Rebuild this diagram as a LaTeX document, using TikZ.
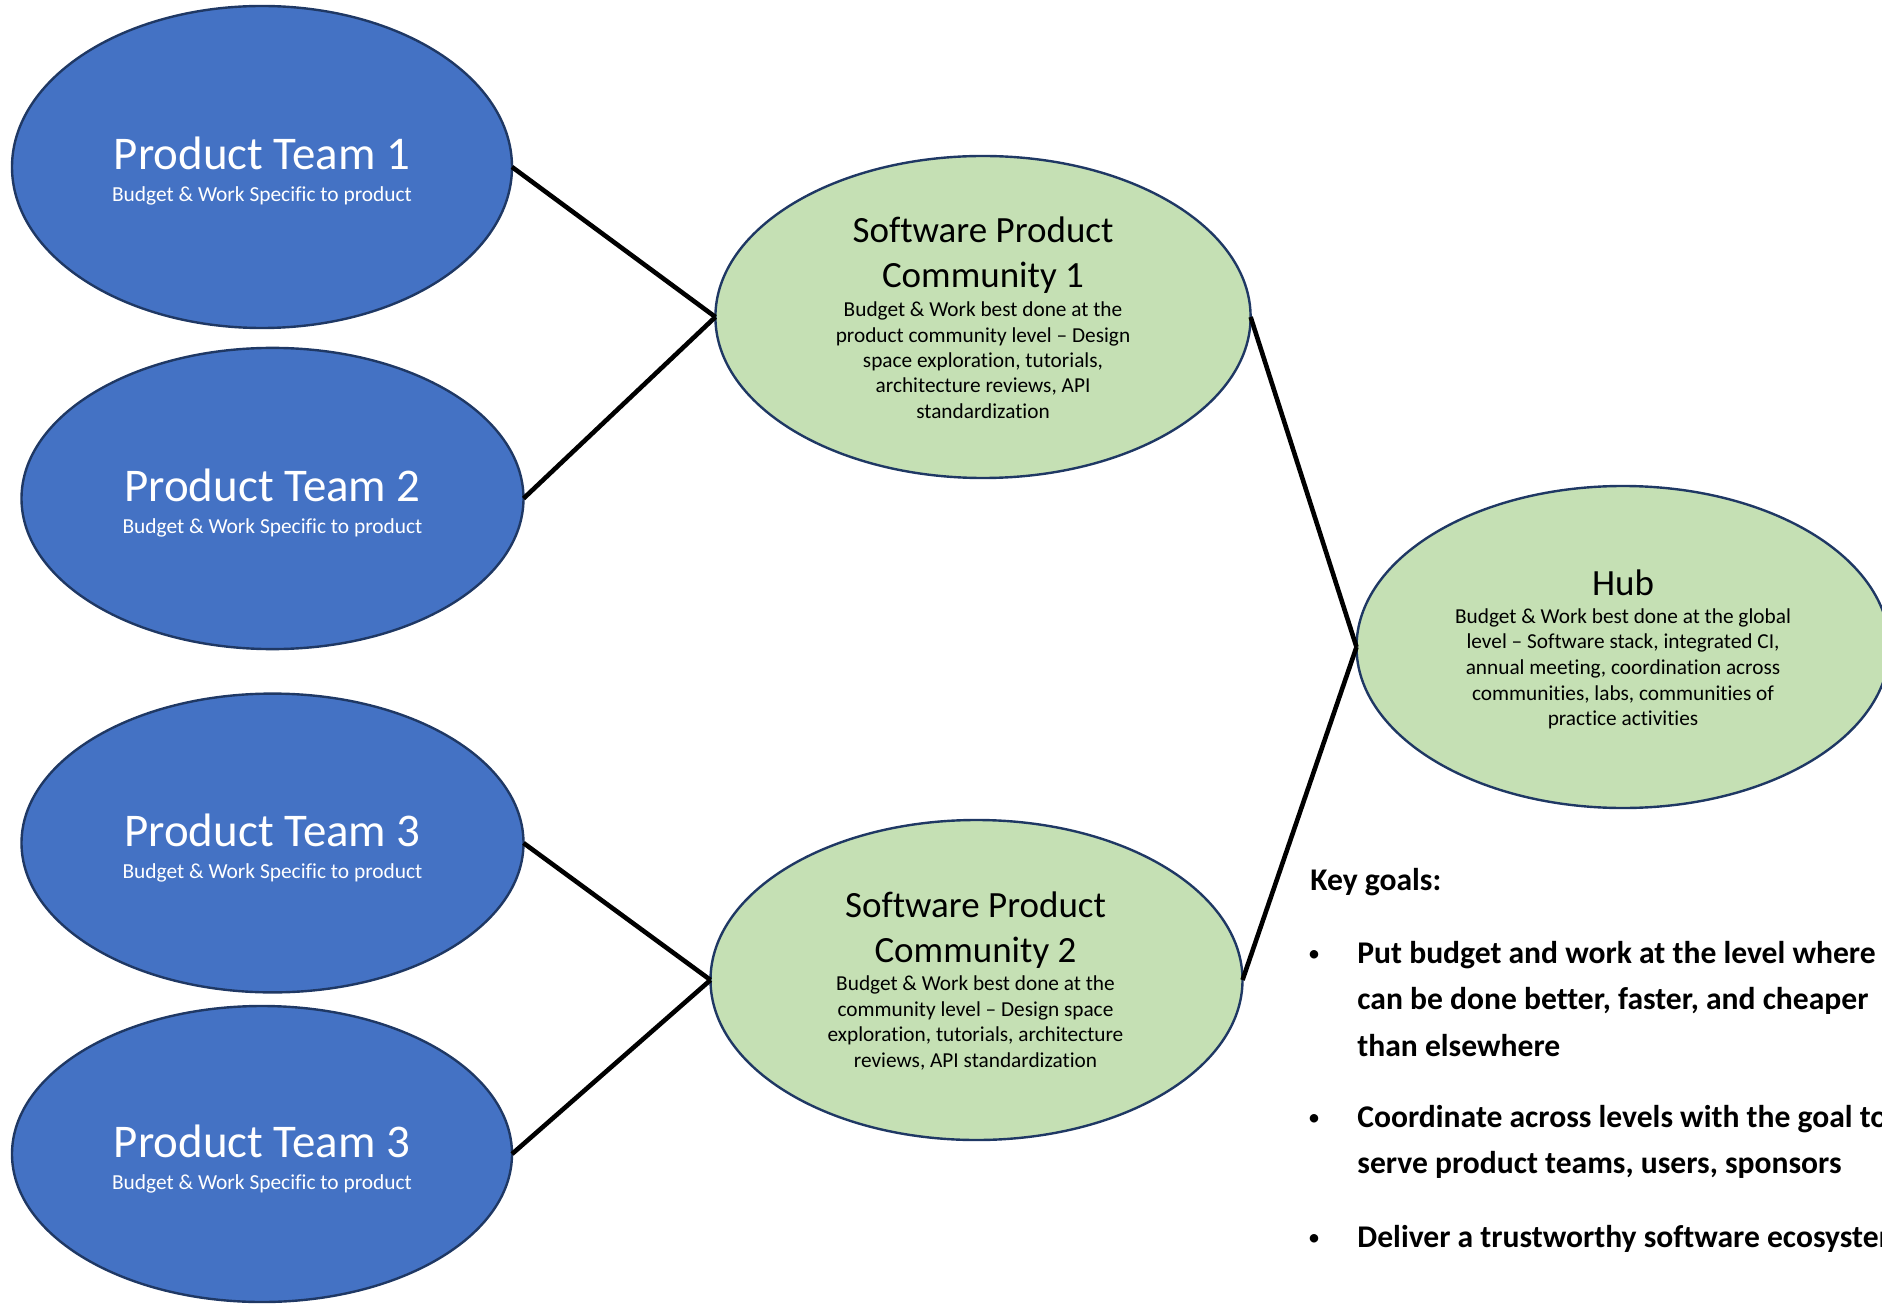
\documentclass[tikz,border=0pt]{standalone}
\usepackage{fontspec}
\setmainfont{Carlito}[Ligatures={TeX,NoCommon}]
\usetikzlibrary{shapes.geometric}
\definecolor{teamblue}{HTML}{4472C4}
\definecolor{commgreen}{HTML}{C5E0B4}
\definecolor{rimnavy}{HTML}{1F3864}

\begin{document}
\begin{tikzpicture}[x=0.5pt, y=-0.5pt,
  oval/.style={ellipse, draw=rimnavy, line width=1.2pt, inner sep=0pt, outer sep=0pt},
  team/.style={oval, fill=teamblue},
  comm/.style={oval, fill=commgreen},
  teamtitle/.style={anchor=base, text=white, inner sep=0pt, font=\fontsize{23.45}{28}\selectfont},
  teamsub/.style={anchor=base, text=white, inner sep=0pt, font=\fontsize{10.7}{13}\selectfont},
  commtitle/.style={anchor=base, inner sep=0pt, font=\fontsize{18.5}{22}\selectfont},
  commbody/.style={anchor=base, inner sep=0pt, font=\fontsize{10.65}{13}\selectfont},
  goal/.style={anchor=base west, inner sep=0pt, font=\bfseries\fontsize{15.8}{19}\selectfont},
  bulletmark/.style={anchor=base, inner sep=0pt, font=\fontsize{12}{14}\selectfont},
  tie/.style={line width=2.3pt, black}
]
\useasboundingbox (0,0) rectangle (1882,1304);
\clip (0,0) rectangle (1882,1304);

% ellipses
\node[team, minimum width=250pt, minimum height=161pt]   (pt1)  at (262,167)    {};
\node[team, minimum width=251pt, minimum height=150.6pt] (pt2)  at (272.5,498.5) {};
\node[team, minimum width=251pt, minimum height=149.4pt] (pt3)  at (272.5,843)  {};
\node[team, minimum width=250pt, minimum height=148pt]   (pt4)  at (262,1154)   {};
\node[comm, minimum width=267.6pt, minimum height=161pt] (spc1) at (983,317)    {};
\node[comm, minimum width=266pt, minimum height=160pt]   (spc2) at (976.5,980)  {};
\node[comm, minimum width=266.5pt, minimum height=161pt] (hub)  at (1623,647)   {};

% connectors
\draw[tie] (pt1.east) -- (spc1.west);
\draw[tie] (pt2.east) -- (spc1.west);
\draw[tie] (pt3.east) -- (spc2.west);
\draw[tie] (pt4.east) -- (spc2.west);
\draw[tie] (spc1.east) -- (hub.west);
\draw[tie] (spc2.east) -- (hub.west);

% product team labels
\node[teamtitle] (pt1t) at (262,170)    {Product Team 1};
\node[teamsub]   (pt1s) at (262,202)    {Budget \& Work Specific to product};
\node[teamtitle] (pt2t) at (272.5,501.5) {Product Team 2};
\node[teamsub]   (pt2s) at (272.5,533.5) {Budget \& Work Specific to product};
\node[teamtitle] (pt3t) at (272.5,846)  {Product Team 3};
\node[teamsub]   (pt3s) at (272.5,878)  {Budget \& Work Specific to product};
\node[teamtitle] (pt4t) at (262,1157)   {Product Team 3};
\node[teamsub]   (pt4s) at (262,1189)   {Budget \& Work Specific to product};

% community 1
\node[commtitle] (c1t1) at (983,243)   {Software Product};
\node[commtitle] (c1t2) at (983,288)   {Community 1};
\node[commbody]  (c1b1) at (983,316.7) {Budget \& Work best done at the};
\node[commbody]  (c1b2) at (983,342.1) {product community level – Design};
\node[commbody]  (c1b3) at (983,367.5) {space exploration, tutorials,};
\node[commbody]  (c1b4) at (983,392.9) {architecture reviews, API};
\node[commbody]  (c1b5) at (983,418.3) {standardization};

% community 2
\node[commtitle] (c2t1) at (975.5,917)    {Software Product};
\node[commtitle] (c2t2) at (975.5,962)    {Community 2};
\node[commbody]  (c2b1) at (975.5,990.5)  {Budget \& Work best done at the};
\node[commbody]  (c2b2) at (975.5,1016)   {community level – Design space};
\node[commbody]  (c2b3) at (975.5,1041.5) {exploration, tutorials, architecture};
\node[commbody]  (c2b4) at (975.5,1067)   {reviews, API standardization};

% hub
\node[commtitle] (hubt)  at (1623,595)   {Hub};
\node[commbody]  (hubb1) at (1623,623)   {Budget \& Work best done at the global};
\node[commbody]  (hubb2) at (1623,648.7) {level – Software stack, integrated CI,};
\node[commbody]  (hubb3) at (1623,674.4) {annual meeting, coordination across};
\node[commbody]  (hubb4) at (1623,700.1) {communities, labs, communities of};
\node[commbody]  (hubb5) at (1623,725.8) {practice activities};

% key goals
\node[goal] (kg) at (1310,890) {Key goals:};
\node[bulletmark] (m1) at (1314,961)    {•};
\node[goal] (g1a) at (1357,963)    {Put budget and work at the level where};
\node[goal] (g1b) at (1357,1009.5) {can be done better, faster, and cheaper};
\node[goal] (g1c) at (1357,1056)   {than elsewhere};
\node[bulletmark] (m2) at (1314,1125.5) {•};
\node[goal] (g2a) at (1357,1127.5) {Coordinate across levels with the goal to};
\node[goal] (g2b) at (1357,1173.5) {serve product teams, users, sponsors};
\node[bulletmark] (m3) at (1314,1245.5) {•};
\node[goal] (g3a) at (1357,1247.5) {Deliver a trustworthy software ecosystem};
\end{tikzpicture}
\end{document}
